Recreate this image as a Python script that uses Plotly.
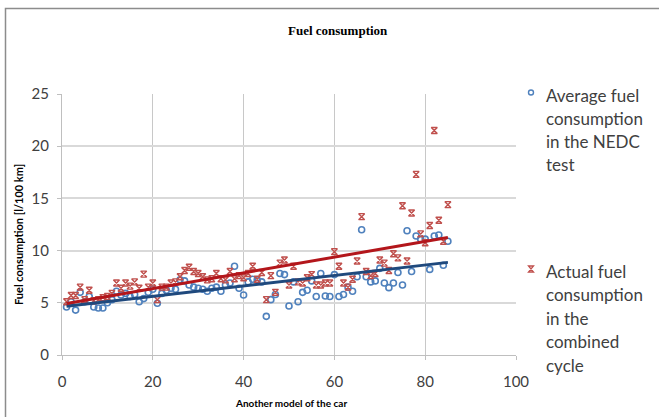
import numpy as np
import plotly.graph_objects as go

model_no = list(range(1, 86))
nedc = [4.6, 5.1, 4.3, 6.0, 5.1, 5.6, 4.6, 4.5, 4.5, 5.0,
        5.3, 6.1, 5.75, 5.9, 5.6, 5.8, 5.1, 5.4, 6.0, 6.3,
        4.95, 5.9, 6.2, 6.4, 6.3, 7.2, 7.1, 6.7, 6.5, 6.4,
        6.3, 6.1, 6.4, 6.5, 6.1, 6.7, 6.9, 8.5, 6.4, 5.75,
        7.0, 7.25, 7.2, 7.0, 3.7, 5.3, 5.8, 7.8, 7.7, 4.7,
        7.0, 5.1, 6.0, 6.2, 7.1, 5.6, 7.8, 5.65, 5.6, 7.7,
        5.6, 5.8, 6.5, 6.1, 7.5, 12.0, 7.5, 7.0, 7.1, 8.3,
        6.9, 6.45, 6.9, 7.9, 6.7, 11.9, 8.0, 11.4, 11.1, 11.1,
        8.2, 11.4, 11.5, 8.6, 10.9]
actual = [5.1, 5.7, 5.7, 6.5, 5.3, 6.2, 5.2, 5.3, 5.5, 5.6,
          5.9, 6.9, 6.4, 6.9, 6.6, 7.0, 6.4, 7.75, 6.5, 6.9,
          5.3, 6.5, 6.5, 6.9, 7.0, 7.5, 8.1, 8.4, 8.0, 7.8,
          7.5, 7.2, 7.3, 7.8, 7.3, 7.2, 8.0, 7.3, 7.6, 7.4,
          7.8, 8.5, 7.25, 7.9, 5.3, 7.6, 6.0, 8.8, 9.1, 6.7,
          8.5, 7.0, 6.9, 7.4, 7.7, 6.7, 6.7, 6.9, 6.9, 9.9,
          8.5, 6.9, 6.5, 7.25, 9.0, 13.25, 8.0, 7.6, 7.8, 9.1,
          8.8, 8.1, 9.7, 9.3, 14.3, 9.0, 13.6, 17.3, 11.6, 10.75,
          12.4, 21.5, 12.9, 10.9, 14.4]

legend_nedc = ["Average fuel", "consumption", "in the NEDC", "test"]
legend_actual = ["Actual fuel", "consumption", "in the", "combined", "cycle"]

x_ticks = [0, 20, 40, 60, 80, 100]
y_ticks = [0, 5, 10, 15, 20, 25]

W, H = 659, 417
ML, MR, MT, MB = 62, 143, 94, 62
PW, PH = W - ML - MR, H - MT - MB


def px(xp):
    return (xp - ML) / PW


def py(yp):
    return (H - MB - yp) / PH


xa = np.array(model_no, dtype=float)
pb = np.polyfit(xa, np.array(nedc), 1)
pr = np.polyfit(xa, np.array(actual), 1)
xl = np.array([xa.min(), xa.max()])

fig = go.Figure()
fig.add_trace(go.Scatter(x=model_no, y=nedc, mode="markers", showlegend=False,
                         marker=dict(symbol="circle-open", size=6, color="#4F81BD",
                                     line=dict(width=1.6, color="#4F81BD"))))
fig.add_trace(go.Scatter(x=model_no, y=actual, mode="markers", showlegend=False,
                         marker=dict(symbol="hourglass-open", size=6, color="#C0504D",
                                     line=dict(width=1.4, color="#C0504D"))))
fig.add_trace(go.Scatter(x=xl, y=np.polyval(pb, xl), mode="lines", showlegend=False,
                         line=dict(color="#1F497D", width=3)))
fig.add_trace(go.Scatter(x=xl, y=np.polyval(pr, xl), mode="lines", showlegend=False,
                         line=dict(color="#B3161B", width=3)))

axis_font = dict(family="Lato, Carlito, sans-serif", size=15, color="#404040")
fig.update_xaxes(range=[0, 100], tickvals=x_ticks, showgrid=True, gridcolor="#C8C8C8",
                 gridwidth=1.3, zeroline=False, showline=True, linecolor="#BFBFBF",
                 linewidth=1.3, ticks="outside", ticklen=4, tickcolor="#BFBFBF",
                 tickfont=axis_font, automargin=False, ticklabelstandoff=9)
fig.update_yaxes(range=[0, 25], tickvals=y_ticks, showgrid=True, gridcolor="#D9D9D9",
                 gridwidth=1.5, zeroline=False, showline=True, linecolor="#BFBFBF",
                 linewidth=1.3, ticks="outside", ticklen=4, tickcolor="#BFBFBF",
                 tickfont=axis_font, automargin=False, ticklabelstandoff=5)

fig.add_annotation(text="<b>Fuel consumption</b>", xref="paper", yref="paper",
                   x=px(338), y=py(31), showarrow=False, xanchor="center", yanchor="middle",
                   font=dict(family="Liberation Serif, serif", size=13, color="#000000"))
fig.add_annotation(text="<b>Fuel consumption [l/100 km]</b>", xref="paper", yref="paper",
                   x=px(18), y=py(235), textangle=-90, showarrow=False,
                   xanchor="center", yanchor="middle",
                   font=dict(family="Lato, sans-serif", size=11, color="#000000"))
fig.add_annotation(text="<b>Another model of the car</b>", xref="paper", yref="paper",
                   x=px(291), y=py(403), showarrow=False, xanchor="center", yanchor="middle",
                   font=dict(family="Lato, sans-serif", size=10, color="#000000"))

# legend text, one line per annotation
leg_font = dict(family="Lato, sans-serif", size=17, color="#404040")
for i, t in enumerate(legend_nedc):
    fig.add_annotation(text=t, xref="paper", yref="paper", x=px(544), y=py(95 + 23 * i),
                       showarrow=False, xanchor="left", yanchor="middle", font=leg_font)
for i, t in enumerate(legend_actual):
    fig.add_annotation(text=t, xref="paper", yref="paper", x=px(544), y=py(271 + 23.5 * i),
                       showarrow=False, xanchor="left", yanchor="middle", font=leg_font)

# legend keys
fig.add_shape(type="circle", xref="paper", yref="paper",
              x0=px(528.5), x1=px(533.5), y0=py(95), y1=py(90),
              line=dict(color="#4F81BD", width=1.4))
hx0, hx1, hy0, hy1 = px(528.5), px(533.5), py(266), py(272)
fig.add_shape(type="path", xref="paper", yref="paper",
              path=f"M{hx0},{hy0} L{hx1},{hy0} L{hx0},{hy1} L{hx1},{hy1} Z",
              line=dict(color="#C0504D", width=1.3))

# outer chart frame
fig.add_shape(type="rect", xref="paper", yref="paper", x0=px(5.5), x1=px(668),
              y0=py(425), y1=py(8.5), line=dict(color="#8C8C8C", width=1.5))

fig.update_layout(
    width=W, height=H,
    margin=dict(l=ML, r=MR, t=MT, b=MB, autoexpand=False),
    plot_bgcolor="white", paper_bgcolor="white",
    showlegend=False,
)
fig.write_html("out.html")
